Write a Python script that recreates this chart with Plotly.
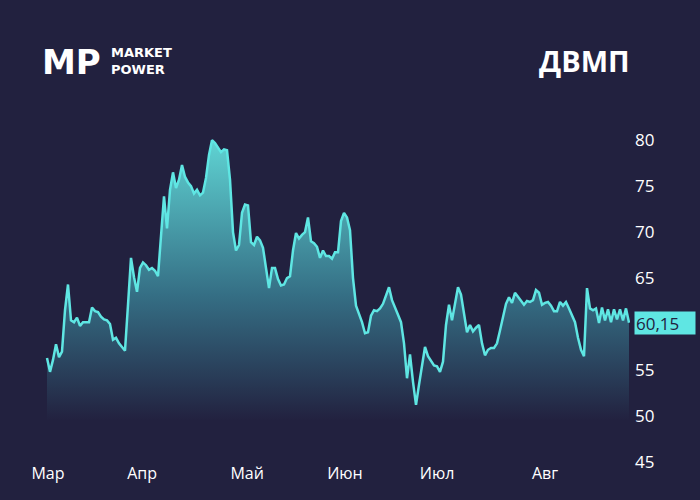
import plotly.graph_objects as go

ticker = "ДВМП"
month_labels = ["Мар", "Апр", "Май", "Июн", "Июл", "Авг"]
month_pos = [0.33, 31.7, 66.7, 99.3, 130.0, 166.0]
y_ticks = [45, 50, 55, 65, 70, 75, 80]
last_price = 60.15

prices = [
    56.3, 54.8, 56.1, 57.8, 56.4, 57.0, 61.5, 64.3, 60.4, 60.2, 60.7, 59.8, 60.2, 60.2, 60.2, 61.8, 61.4, 61.3, 60.8, 60.5,
    60.4, 60.0, 58.3, 58.5, 57.9, 57.5, 57.1, 62.1, 67.2, 65.1, 63.5, 66.1, 66.7, 66.4, 65.9, 66.1, 65.8,
    65.2, 69.7, 73.9, 70.4, 74.6, 76.5, 74.8, 75.7, 77.3, 76.0, 75.4, 75.0, 74.2, 74.6, 74.0, 74.3, 75.9, 78.4, 80.0, 79.7,
    79.2, 78.7, 79.0, 78.9, 75.7, 70.0, 68.0, 68.6, 72.1, 73.0, 72.9, 68.9, 68.6, 69.5, 69.1, 68.3, 66.1, 63.9,
    66.1, 66.1, 64.9, 64.2, 64.3, 65.0, 65.2, 68.0, 69.9, 69.3, 69.7, 70.0, 71.6, 69.0, 68.8, 68.4, 67.2, 68.0, 67.4, 67.4,
    67.1, 67.8, 67.8, 71.2, 72.1, 71.6, 70.2, 65.0, 62.0, 61.1, 60.2, 59.0, 59.1, 60.9, 61.5, 61.4, 61.7, 62.2, 63.2, 64.0,
    62.6, 61.7, 61.0, 60.2, 57.9, 54.1, 56.7, 53.7, 51.2, 53.4, 55.7, 57.5, 56.5, 56.0, 55.5, 55.4, 54.8, 55.9, 59.9, 62.1,
    60.4, 62.2, 64.0, 63.2, 60.9, 59.1, 59.9, 59.2, 59.6, 59.9, 57.9, 56.6, 57.2, 57.4, 57.4, 57.9, 59.3, 60.7, 62.2, 62.9,
    62.3, 63.4, 63.0, 62.5, 62.1, 62.5, 62.4, 62.6, 63.7, 63.4, 62.1, 62.3, 62.4, 62.0, 61.4, 61.4, 62.4, 62.0, 62.4, 61.7,
    60.9, 60.2, 58.5, 57.2, 56.5, 63.9, 61.7, 61.5, 61.7, 60.1, 61.8, 60.4, 61.6, 60.2, 61.6, 60.5, 61.6, 60.4, 61.7, 60.15,
]

BG = "#22213f"
CYAN = "#5fe6e3"
WHITE = "#ffffff"
FONT = "Open Sans"

sessions = list(range(len(prices)))

fig = go.Figure()
fig.add_trace(go.Scatter(
    x=sessions, y=prices, mode="lines",
    line=dict(color=CYAN, width=2.5),
    fill="tozeroy",
    fillgradient=dict(type="vertical",
                      colorscale=[[0, BG], [0.45, "#356f85"], [1, "#5fd3d3"]],
                      start=49.5, stop=80),
    hoverinfo="skip", showlegend=False,
))

fig.update_layout(
    width=700, height=500,
    paper_bgcolor=BG, plot_bgcolor=BG,
    margin=dict(l=40, r=70, t=131, b=38),
    font=dict(family=FONT, color=WHITE),
    xaxis=dict(range=[-2.333, 194.333], showgrid=False, zeroline=False, showline=False,
               tickvals=month_pos, ticktext=month_labels, ticks="",
               tickfont=dict(size=16, color=WHITE, family=FONT)),
    yaxis=dict(range=[44.99, 81], side="right", showgrid=False, zeroline=False, showline=False,
               tickvals=y_ticks, ticks="", ticklabelstandoff=4,
               tickfont=dict(size=17, color=WHITE, family=FONT)),
)

fig.add_annotation(text="<b>" + ticker + "</b>", xref="paper", yref="paper",
                   x=1.003, y=1.2145, xanchor="right", yanchor="middle", showarrow=False,
                   font=dict(size=29, color=WHITE, family=FONT))
fig.add_annotation(text="<b>MP</b>", xref="paper", yref="paper",
                   x=0.0, y=1.208, xanchor="left", yanchor="middle", showarrow=False,
                   font=dict(size=34, color=WHITE, family="DejaVu Sans"))
fig.add_annotation(text="<b>MARKET</b><br><b>POWER</b>", xref="paper", yref="paper",
                   x=0.1186, y=1.211, xanchor="left", yanchor="middle", showarrow=False,
                   align="left", borderpad=0,
                   font=dict(size=13, color=WHITE, family="DejaVu Sans"))
fig.add_annotation(text=f"{last_price:.2f}".replace(".", ","), xref="paper", yref="y",
                   x=1, y=last_price, xanchor="left", yanchor="middle", xshift=4,
                   showarrow=False, bgcolor=CYAN, width=58, height=20, align="left",
                   borderpad=1, font=dict(size=17, color=BG, family=FONT))

fig.write_html("out.html", config={"displayModeBar": False},
               post_script="document.body.style.margin='0';document.body.style.background='" + BG + "';")
